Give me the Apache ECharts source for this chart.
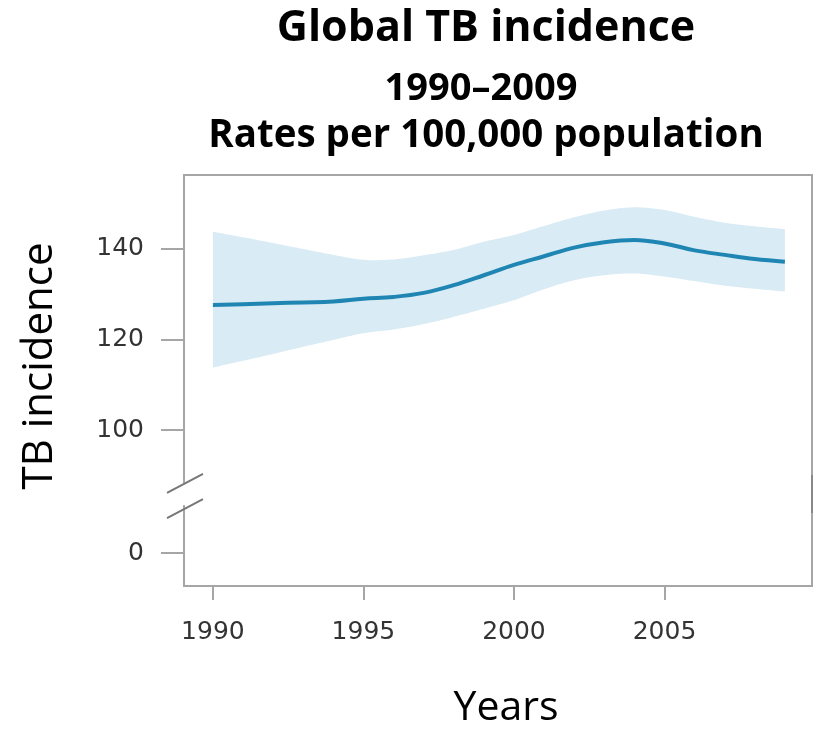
<!DOCTYPE html>
<html><head><meta charset="utf-8">
<script src="https://cdn.jsdelivr.net/npm/echarts@6/dist/echarts.min.js"></script>
<style>html,body{margin:0;padding:0;background:#fff}#c{width:815px;height:729px}</style>
</head><body><div id="c"></div>
<script>
// ---- data ----
const years = [1990,1991,1992,1993,1994,1995,1996,1997,1998,1999,2000,2001,2002,2003,2004,2005,2006,2007,2008,2009];
const incidence = [127.6,127.8,128.0,128.2,128.4,129.0,129.4,130.3,132.0,134.2,136.5,138.4,140.3,141.5,142.0,141.2,139.7,138.7,137.8,137.2];
const upperBound = [143.8,142.6,141.3,140.0,138.7,137.6,137.7,138.6,139.8,141.6,143.1,145.1,147.0,148.5,149.2,148.6,147.1,145.8,145.0,144.4];
const lowerBound = [113.8,115.3,116.8,118.4,119.9,121.4,122.2,123.4,125.0,126.8,128.7,131.1,133.1,134.2,134.6,133.9,132.9,131.9,131.2,130.6];
const xTickValues = [1990,1995,2000,2005];
const yTickValues = [72.8,100,120,140];   // 72.8 = where "0" sits below the axis break
const yTickLabels = ['0','100','120','140'];
const titleLines = ['Global TB incidence','1990\u20132009','Rates per 100,000 population'];
const xAxisName = 'Years';
const yAxisName = 'TB incidence';
const axisBreak = [83.4, 88.3];

// smooth an open pixel polyline (Catmull-Rom), rendering only
function smoothPts(p, steps){
  const out = [];
  for (let i=0;i<p.length-1;i++){
    const p0 = p[Math.max(i-1,0)], p1 = p[i], p2 = p[i+1], p3 = p[Math.min(i+2,p.length-1)];
    for (let s=0;s<steps;s++){
      const t = s/steps, t2=t*t, t3=t2*t;
      const f = k => 0.5*((2*p1[k]) + (-p0[k]+p2[k])*t + (2*p0[k]-5*p1[k]+4*p2[k]-p3[k])*t2 + (-p0[k]+3*p1[k]-3*p2[k]+p3[k])*t3);
      out.push([f(0), f(1)]);
    }
  }
  out.push(p[p.length-1]);
  return out;
}

// ---- chart ----
const chart = echarts.init(document.getElementById('c'));
const axisGrey = '#a6a6a6';
const tickFont = {fontFamily:'DejaVu Sans', fontSize:25, color:'#333'};
const option = {
  animation:false,
  grid:{left:184, top:175, width:628, height:411, show:true, borderColor:axisGrey, borderWidth:2, backgroundColor:'#fff'},
  xAxis:{type:'value', min:1989.04, max:2009.9,
    axisLine:{show:false}, splitLine:{show:false},
    axisTick:{show:true, customValues:xTickValues, length:14, lineStyle:{color:axisGrey, width:2}},
    axisLabel:Object.assign({customValues:xTickValues, margin:34, formatter:v=>String(v)}, tickFont)
  },
  yAxis:{type:'value', min:65.53, max:156.35,
    axisLine:{show:false}, splitLine:{show:false},
    axisTick:{show:true, customValues:yTickValues, length:23, lineStyle:{color:axisGrey, width:2}},
    axisLabel:Object.assign({customValues:yTickValues, margin:40,
      formatter:v=>{const i=yTickValues.findIndex(t=>Math.abs(t-v)<0.01);return i>=0?yTickLabels[i]:'';}}, tickFont)
  },
  series:[
    {type:'custom', name:'band', silent:true, z:1,
     data:[[years[0], lowerBound[0], upperBound[0]]],
     renderItem:function(params, api){
       const up = years.map((y,i)=>api.coord([y, upperBound[i]]));
       const lo = years.map((y,i)=>api.coord([y, lowerBound[i]]));
       const pts = smoothPts(up, 10).concat(smoothPts(lo, 10).reverse());
       return {type:'polygon', shape:{points:pts}, style:{fill:'#d9ebf4'}};
     }},
    {type:'line', name:'TB incidence', symbol:'none', smooth:0.4,
     data:years.map((y,i)=>[y,incidence[i]]), lineStyle:{color:'#1f86b3', width:4}, z:5}
  ]
};
chart.setOption(option);

const gx = 184, gRight = 812;
const yb1 = chart.convertToPixel({yAxisIndex:0}, axisBreak[1]);
const yb0 = chart.convertToPixel({yAxisIndex:0}, axisBreak[0]);
const mid = (yb0+yb1)/2;
chart.setOption({graphic:[
  {type:'rect', shape:{x:gx-3, y:yb1, width:6, height:yb0-yb1}, style:{fill:'#fff'}, z:100},
  {type:'line', shape:{x1:gx-17, y1:yb1+10, x2:gx+19, y2:yb1-9}, style:{stroke:'#777', lineWidth:2}, z:101},
  {type:'line', shape:{x1:gx-17, y1:yb0+13, x2:gx+19, y2:yb0-6}, style:{stroke:'#777', lineWidth:2}, z:101},
  {type:'line', shape:{x1:gRight, y1:mid-19, x2:gRight, y2:mid+19}, style:{stroke:'#888', lineWidth:2}, z:101},
  {type:'text', x:486, y:29, style:{text:titleLines[0], font:'bold 43px "Open Sans"', fill:'#000', align:'center', verticalAlign:'middle'}},
  {type:'text', x:481, y:89, style:{text:titleLines[1], font:'bold 38px "Open Sans"', fill:'#000', align:'center', verticalAlign:'middle'}},
  {type:'text', x:486, y:136, style:{text:titleLines[2], font:'bold 38.5px "Open Sans"', fill:'#000', align:'center', verticalAlign:'middle'}},
  {type:'text', x:506, y:708, style:{text:xAxisName, font:'41px "Open Sans"', fill:'#000', align:'center', verticalAlign:'middle'}},
  {type:'text', x:40, y:366, rotation:Math.PI/2, style:{text:yAxisName, font:'42px "Open Sans"', fill:'#000', align:'center', verticalAlign:'middle'}}
]});
</script>
</body></html>
